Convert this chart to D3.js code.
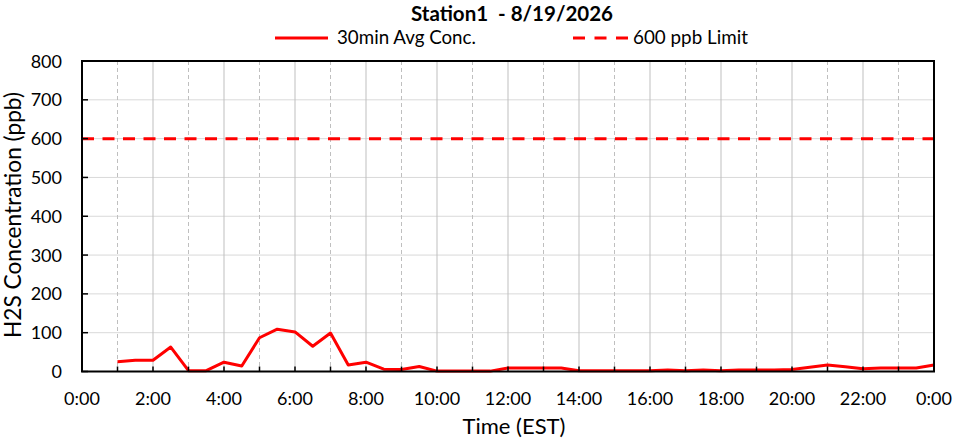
<!DOCTYPE html>
<html><head><meta charset="utf-8">
<script src="https://cdn.jsdelivr.net/npm/d3@7"></script>
<style>
body{margin:0;background:#fff}
svg{display:block}
text{font-family:Lato,"Open Sans",sans-serif;fill:#000}
</style>
</head><body>
<svg id="chart" width="953" height="440"></svg>
<script>
// ---- data ----
const chartTitle = "Station1  - 8/19/2026";
const seriesName = "30min Avg Conc.";
const limitName = "600 ppb Limit";
const xTitle = "Time (EST)";
const yTitle = "H2S Concentration (ppb)";

const times = ["1:00","1:30","2:00","2:30","3:00","3:30","4:00","4:30","5:00","5:30",
  "6:00","6:30","7:00","7:30","8:00","8:30","9:00","9:30","10:00","10:30",
  "11:00","11:30","12:00","12:30","13:00","13:30","14:00","14:30","15:00","15:30",
  "16:00","16:30","17:00","17:30","18:00","18:30","19:00","19:30","20:00","20:30",
  "21:00","21:30","22:00","22:30","23:00","23:30","24:00"];
const concentration = [25,29,29,63,2,2,24,14,87,109,
  102,65,99,17,24,6,5,13,1,1,
  1,1,9,9,9,9,2,2,2,2,
  2,4,2,4,2,4,4,4,5,11,
  17,12,7,9,9,9,17];
const limitValue = 600;
const limitSpan = ["0:00","24:00"];
const xTickLabels = ["0:00","2:00","4:00","6:00","8:00","10:00","12:00","14:00","16:00","18:00","20:00","22:00","0:00"];
const xTickHours = [0,2,4,6,8,10,12,14,16,18,20,22,24];
const hourMarks = [0,1,2,3,4,5,6,7,8,9,10,11,12,13,14,15,16,17,18,19,20,21,22,23,24];
const yTicks = [0,100,200,300,400,500,600,700,800];

// ---- layout ----
const L = 82, R = 934, T = 61, B = 371.5;
const red = "#ff0000";
const toHours = s => { const [h,m] = s.split(":").map(Number); return h + m/60; };

const svg = d3.select("#chart");
const x = d3.scaleLinear().domain([0,24]).range([L,R]);
const y = d3.scaleLinear().domain([0,800]).range([B,T]);

function fitText(sel, size, target){
  sel.attr("font-size", size);
  const w = sel.node().getComputedTextLength();
  if (w > 0) sel.attr("font-size", size * target / w);
  return sel;
}

// horizontal gridlines
svg.append("g").selectAll("line").data(yTicks.filter(v => v > 0 && v < 800)).join("line")
  .attr("x1", L).attr("x2", R).attr("y1", d => y(d)).attr("y2", d => y(d))
  .attr("stroke", "#d9d9d9").attr("stroke-width", 1);

// vertical gridlines
svg.append("g").selectAll("line").data(hourMarks.filter(h => h > 0 && h < 24)).join("line")
  .attr("x1", d => x(d)).attr("x2", d => x(d)).attr("y1", T).attr("y2", B)
  .attr("stroke", "#bfbfbf").attr("stroke-width", 1)
  .attr("stroke-dasharray", d => d % 2 === 0 ? null : "4,3");

// limit line
svg.append("line")
  .attr("x1", x(toHours(limitSpan[0]))).attr("x2", x(toHours(limitSpan[1])))
  .attr("y1", y(limitValue)).attr("y2", y(limitValue))
  .attr("stroke", red).attr("stroke-width", 3).attr("stroke-dasharray", "12,8.5");

// data line
const pts = times.map((t,i) => [toHours(t), concentration[i]]);
svg.append("path").datum(pts)
  .attr("d", d3.line().x(d => x(d[0])).y(d => y(d[1])))
  .attr("fill", "none").attr("stroke", red).attr("stroke-width", 3)
  .attr("stroke-linejoin", "round");

// ticks (inward)
svg.append("g").selectAll("line").data(hourMarks).join("line")
  .attr("x1", d => x(d)).attr("x2", d => x(d)).attr("y1", B).attr("y2", B - 5)
  .attr("stroke", "#000").attr("stroke-width", 1.5);
svg.append("g").selectAll("line").data(yTicks).join("line")
  .attr("x1", L).attr("x2", L + 6).attr("y1", d => y(d)).attr("y2", d => y(d))
  .attr("stroke", "#000").attr("stroke-width", 1.5);

// frame
svg.append("rect").attr("x", L).attr("y", T).attr("width", R - L).attr("height", B - T)
  .attr("fill", "none").attr("stroke", "#000").attr("stroke-width", 2);

// tick labels
svg.append("g").selectAll("text").data(xTickHours).join("text")
  .attr("x", d => x(d)).attr("y", 405).attr("text-anchor", "middle")
  .attr("font-size", 18).text((d,i) => xTickLabels[i]);
svg.append("g").selectAll("text").data(yTicks).join("text")
  .attr("x", 62).attr("y", d => y(d) + 6.5).attr("text-anchor", "end")
  .attr("font-size", 18).text(d => d);

// axis titles
fitText(svg.append("text").attr("x", (L + R) / 2 + 6).attr("y", 434)
  .attr("text-anchor", "middle").text(xTitle), 22, 103);
fitText(svg.append("text").attr("transform", "translate(21,215) rotate(-90)")
  .attr("text-anchor", "middle").text(yTitle), 22, 246);

// title
svg.append("text").attr("x", 512).attr("y", 20.5).attr("text-anchor", "middle")
  .attr("font-weight", "bold").attr("font-size", 20.5)
  .style("white-space", "pre").text(chartTitle);

// legend
svg.append("line").attr("x1", 275).attr("x2", 328).attr("y1", 38).attr("y2", 38)
  .attr("stroke", red).attr("stroke-width", 3);
fitText(svg.append("text").attr("x", 337).attr("y", 44).text(seriesName), 19, 139);
svg.append("line").attr("x1", 573).attr("x2", 628).attr("y1", 38).attr("y2", 38)
  .attr("stroke", red).attr("stroke-width", 3).attr("stroke-dasharray", "12,9.5");
fitText(svg.append("text").attr("x", 633).attr("y", 44).text(limitName), 19, 115);
</script>
</body></html>
